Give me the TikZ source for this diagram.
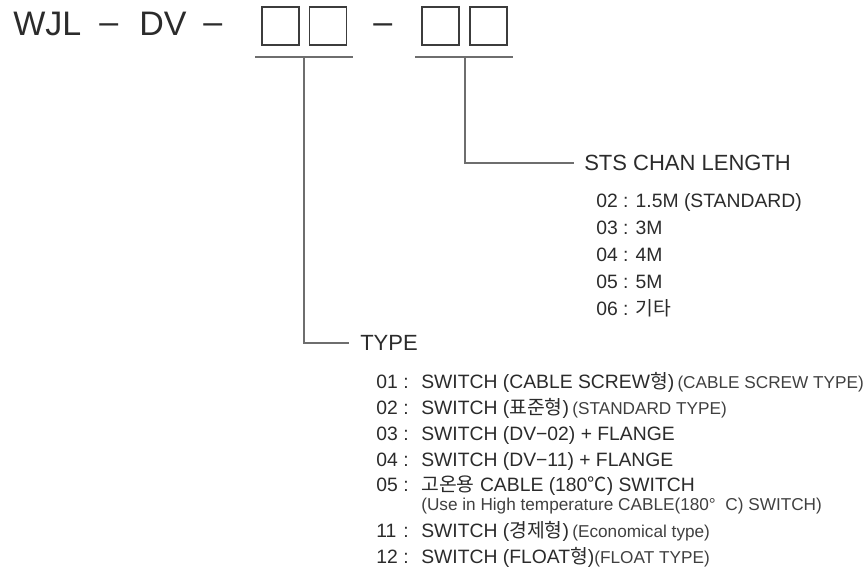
\documentclass[tikz,border=0pt]{standalone}
\usepackage{fontspec}
\setmainfont{Liberation Sans}
\newfontfamily\kr{Noto Sans CJK KR}
\definecolor{ink}{HTML}{2B2B2B}
\definecolor{inksub}{HTML}{404040}
\definecolor{wire}{HTML}{6E6E6E}
\definecolor{boxline}{HTML}{3C3C3C}
\newcommand{\fsz}[1]{\fontsize{#1}{#1}\selectfont}
\newcommand{\subtxt}[1]{{\fsz{12.9pt}\color{inksub}#1}}
\newcommand{\trow}[2]{\makebox[20.25pt][l]{#1}\makebox[13.5pt][l]{:}#2}
\newcommand{\tdash}{\raisebox{1.6pt}{–}}
\tikzset{
  title/.style={anchor=base west, inner sep=0pt, text=ink, font=\fsz{25.5pt}},
  head/.style={anchor=west, inner sep=0pt, text=ink, font=\fsz{16.5pt}},
  item/.style={anchor=base west, inner sep=0pt, text=ink, font=\fsz{14.5pt}},
  codebox/.style={draw=boxline, line width=0.8pt, minimum width=27.75pt, minimum height=28.5pt, inner sep=0pt},
  wireline/.style={draw=wire, line width=0.9pt}
}
\begin{document}
\begin{tikzpicture}[x=0.75pt,y=-0.75pt]
\useasboundingbox (0,0) rectangle (867,571);
% title
\node[title] (wjl) at (13,36) {WJL};
\node[title] (d1) at (99,36) {\tdash};
\node[title] (dv) at (139,36) {DV};
\node[title] (d2) at (203,36) {\tdash};
\node[title] (d3) at (373,36) {\tdash};
\node[codebox] (b1) at (280.5,26) {};
\node[codebox] (b2) at (328,26) {};
\node[codebox] (b3) at (440.5,26) {};
\node[codebox] (b4) at (488.5,26) {};
% underlines
\coordinate (u1a) at (255,57);
\coordinate (u1b) at (353,57);
\coordinate (u1m) at (304,57);
\coordinate (u2a) at (415,57);
\coordinate (u2b) at (513,57);
\coordinate (u2m) at (465,57);
\draw[wireline] (u1a) -- (u1b);
\draw[wireline] (u2a) -- (u2b);
% headings
\node[head] (sts) at (584,163) {STS CHAN LENGTH};
\node[head] (type) at (360,343) {TYPE};
\draw[wireline] (u2m) |- ([xshift=-7.5pt]sts.west);
\draw[wireline] (u1m) |- ([xshift=-8.25pt]type.west);
% STS list
\node[item] (s02) at (596,207) {02 : 1.5M (STANDARD)};
\node[item] (s03) at (596,234) {03 : 3M};
\node[item] (s04) at (596,261) {04 : 4M};
\node[item] (s05) at (596,288) {05 : 5M};
\node[item] (s06) at (596,315) {06 : {\kr 기타}};
% TYPE list
\node[item] (t01) at (376,388) {\trow{01}{SWITCH (CABLE SCREW{\kr 형})\,\subtxt{(CABLE SCREW TYPE)}}};
\node[item] (t02) at (376,414) {\trow{02}{SWITCH ({\kr 표준형})\,\subtxt{(STANDARD TYPE)}}};
\node[item] (t03) at (376,440) {\trow{03}{SWITCH (DV−02) + FLANGE}};
\node[item] (t04) at (376,466) {\trow{04}{SWITCH (DV−11) + FLANGE}};
\node[item] (t05) at (376,491) {\trow{05}{{\kr 고온용} CABLE (180{\kr ℃}) SWITCH}};
\node[item] (t05b) at (421,510) {\subtxt{(Use in High temperature CABLE(180°\ \ C) SWITCH)}};
\node[item] (t11) at (376,537) {\trow{11}{SWITCH ({\kr 경제형})\,\subtxt{(Economical type)}}};
\node[item] (t12) at (376,563) {\trow{12}{SWITCH (FLOAT{\kr 형})\subtxt{(FLOAT TYPE)}}};
\end{tikzpicture}
\end{document}
